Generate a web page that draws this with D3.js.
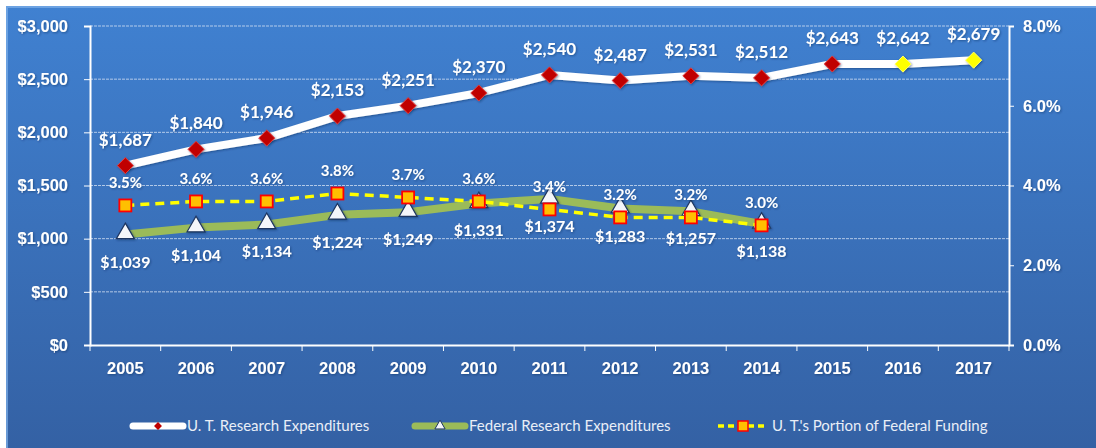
<!DOCTYPE html>
<html>
<head>
<meta charset="utf-8">
<script src="https://cdn.jsdelivr.net/npm/d3@7"></script>
<style>
	body { margin: 0; background: #fff; }
	svg { display: block; font-family: Lato, 'Open Sans', sans-serif; }
	.tick-label { fill: #fff; font-weight: bold; font-size: 16.5px; }
	.data-label { fill: #fff; font-weight: bold; }
	.legend text { fill: #e9eef7; font-size: 15px; }
</style>
</head>
<body>
<div id="chart"></div>
<script>
const years = ['2005', '2006', '2007', '2008', '2009', '2010', '2011', '2012', '2013', '2014', '2015', '2016', '2017'];
const utExpenditures = [1687, 1840, 1946, 2153, 2251, 2370, 2540, 2487, 2531, 2512, 2643, 2642, 2679];
const federalYears = ['2005', '2006', '2007', '2008', '2009', '2010', '2011', '2012', '2013', '2014'];
const federalExpenditures = [1039, 1104, 1134, 1224, 1249, 1331, 1374, 1283, 1257, 1138];
const federalShare = [3.5, 3.6, 3.6, 3.8, 3.7, 3.6, 3.4, 3.2, 3.2, 3.0];
const dollarTicks = [0, 500, 1000, 1500, 2000, 2500, 3000];
const shareTicks = [0, 2, 4, 6, 8];
const projectedYears = ['2016', '2017'];
const legendLabels = ['U. T. Research Expenditures', 'Federal Research Expenditures', 'U. T.\'s Portion of Federal Funding'];

const width = 1096;
const height = 448;
const plot = {left: 90, right: 1009, top: 26, bottom: 345};

const svg = d3.select('#chart')
	.append('svg')
	.attr('width', width)
	.attr('height', height);

const defs = svg.append('defs');

const bg = defs.append('linearGradient')
	.attr('id', 'bg')
	.attr('x1', 0).attr('y1', 0)
	.attr('x2', 0).attr('y2', 1);
bg.append('stop').attr('offset', '0%').attr('stop-color', '#4081d1');
bg.append('stop').attr('offset', '100%').attr('stop-color', '#3461a4');

defs.append('filter')
	.attr('id', 'shadow')
	.attr('x', '-30%').attr('y', '-30%')
	.attr('width', '160%').attr('height', '160%')
	.append('feDropShadow')
	.attr('dx', 1).attr('dy', 1)
	.attr('stdDeviation', 1)
	.attr('flood-color', '#0b2350')
	.attr('flood-opacity', 0.45);

// panel
svg.append('rect')
	.attr('x', 6).attr('y', 6)
	.attr('width', width - 6).attr('height', height - 6)
	.attr('fill', 'url(#bg)');
svg.append('path')
	.attr('d', `M7,${height} V7 H${width}`)
	.attr('fill', 'none')
	.attr('stroke', '#7fb0ea')
	.attr('stroke-width', 2)
	.attr('opacity', 0.7);

const x = d3.scaleBand()
	.domain(years)
	.range([plot.left, plot.right]);

const cx = d => x(d) + x.bandwidth() / 2;

const y = d3.scaleLinear()
	.domain([0, 3000])
	.range([plot.bottom, plot.top]);

const yShare = d3.scaleLinear()
	.domain([0, 8])
	.range([plot.bottom, plot.top]);

const dollar = v => '$' + d3.format(',')(v);
const pct = v => d3.format('.1f')(v) + '%';

// grid
svg.append('g')
	.selectAll('line')
	.data(dollarTicks.slice(1))
	.join('line')
	.attr('x1', plot.left).attr('x2', plot.right)
	.attr('y1', d => y(d)).attr('y2', d => y(d))
	.attr('stroke', '#dbe6f6')
	.attr('stroke-opacity', 0.75)
	.attr('stroke-dasharray', '3,1');

// axes
svg.append('g')
	.attr('transform', `translate(${plot.left},0)`)
	.call(d3.axisLeft(y).tickValues(dollarTicks).tickFormat(dollar).tickSize(6).tickPadding(16))
	.call(g => g.select('.domain').attr('stroke', '#fff').attr('stroke-width', 2))
	.call(g => g.selectAll('.tick line').attr('stroke', '#fff'))
	.call(g => g.selectAll('.tick text').attr('class', 'tick-label').attr('font-family', null).attr('font-size', null).attr('filter', 'url(#shadow)'));

svg.append('g')
	.attr('transform', `translate(${plot.right},0)`)
	.call(d3.axisRight(yShare).tickValues(shareTicks).tickFormat(pct).tickSize(5).tickPadding(9))
	.call(g => g.select('.domain').attr('stroke', '#fff').attr('stroke-width', 2))
	.call(g => g.selectAll('.tick line').attr('stroke', '#fff'))
	.call(g => g.selectAll('.tick text').attr('class', 'tick-label').attr('font-family', null).attr('font-size', null).attr('filter', 'url(#shadow)'));

svg.append('g')
	.attr('transform', `translate(0,${plot.bottom})`)
	.call(d3.axisBottom(x).tickSize(0).tickPadding(17))
	.call(g => g.select('.domain').attr('stroke', '#fff').attr('stroke-width', 2))
	.call(g => g.selectAll('.tick text').attr('class', 'tick-label').attr('font-family', null).attr('font-size', null).attr('filter', 'url(#shadow)'));

// x ticks sit on the category boundaries
svg.append('g')
	.selectAll('line')
	.data(years.map(d => x(d)).concat([plot.right]))
	.join('line')
	.attr('x1', d => d).attr('x2', d => d)
	.attr('y1', plot.bottom).attr('y2', plot.bottom + 6)
	.attr('stroke', '#fff');

const line = d3.line();

// federal expenditures
const federal = federalYears.map((d, i) => ({year: d, value: federalExpenditures[i]}));
svg.append('path')
	.attr('d', line(federal.map(d => [cx(d.year), y(d.value)])))
	.attr('fill', 'none')
	.attr('stroke', '#9bbb59')
	.attr('stroke-width', 8)
	.attr('stroke-linejoin', 'round');

const triangle = d3.symbol().type(d3.symbolTriangle).size(140);

svg.append('g')
	.selectAll('path')
	.data(federal)
	.join('path')
	.attr('d', triangle)
	.attr('transform', d => `translate(${cx(d.year)},${y(d.value) - 1})`)
	.attr('fill', '#f4f6fa')
	.attr('stroke', '#1d3560')
	.attr('stroke-width', 1.2)
	.attr('filter', 'url(#shadow)');

// federal share
const share = federalYears.map((d, i) => ({year: d, value: federalShare[i]}));
svg.append('path')
	.attr('d', line(share.map(d => [cx(d.year), yShare(d.value)])))
	.attr('fill', 'none')
	.attr('stroke', '#ffff00')
	.attr('stroke-width', 3.5)
	.attr('stroke-dasharray', '9,6');

svg.append('g')
	.selectAll('rect')
	.data(share)
	.join('rect')
	.attr('x', d => cx(d.year) - 6)
	.attr('y', d => yShare(d.value) - 6)
	.attr('width', 12).attr('height', 12)
	.attr('fill', '#ffc000')
	.attr('stroke', '#ff0000')
	.attr('stroke-width', 1.8);

// U.T. expenditures
const ut = years.map((d, i) => ({year: d, value: utExpenditures[i]}));
svg.append('path')
	.attr('d', line(ut.map(d => [cx(d.year), y(d.value)])))
	.attr('fill', 'none')
	.attr('stroke', '#fff')
	.attr('stroke-width', 8)
	.attr('stroke-linejoin', 'round')
	.attr('filter', 'url(#shadow)');

const diamond = d3.symbol().type(d3.symbolDiamond2).size(165);

svg.append('g')
	.selectAll('path')
	.data(ut)
	.join('path')
	.attr('d', diamond)
	.attr('transform', d => `translate(${cx(d.year)},${y(d.value)})`)
	.attr('fill', d => projectedYears.includes(d.year) ? '#ffff00' : '#c00000')
	.attr('stroke', d => projectedYears.includes(d.year) ? '#ffff66' : '#e04040')
	.attr('stroke-width', 1)
	.attr('filter', 'url(#shadow)');

// labels
const labels = svg.append('g')
	.attr('class', 'data-label')
	.attr('text-anchor', 'middle')
	.attr('filter', 'url(#shadow)');

labels.selectAll('text.ut')
	.data(ut)
	.join('text')
	.attr('class', 'ut')
	.attr('x', d => cx(d.year))
	.attr('y', d => y(d.value) - 20)
	.attr('font-size', 17)
	.text(d => dollar(d.value));

labels.selectAll('text.federal')
	.data(federal)
	.join('text')
	.attr('class', 'federal')
	.attr('x', d => cx(d.year))
	.attr('y', d => y(d.value) + 33)
	.attr('font-size', 16)
	.text(d => dollar(d.value));

labels.selectAll('text.share')
	.data(share)
	.join('text')
	.attr('class', 'share')
	.attr('x', d => cx(d.year))
	.attr('y', d => yShare(d.value) - 17)
	.attr('font-size', 15)
	.text(d => pct(d.value));

// legend
const legendX = [133, 415, 718];
const legend = svg.append('g')
	.attr('class', 'legend')
	.attr('transform', 'translate(0,426)');

const items = legend.selectAll('g')
	.data(legendLabels)
	.join('g')
	.attr('transform', (d, i) => `translate(${legendX[i]},0)`);

items.append('text')
	.attr('x', 54)
	.attr('y', 5)
	.text(d => d);

items.filter((d, i) => i === 0)
	.call(g => g.append('line').attr('x1', 0).attr('x2', 50).attr('stroke', '#fff').attr('stroke-width', 7).attr('stroke-linecap', 'round'))
	.call(g => g.append('path').attr('d', d3.symbol().type(d3.symbolDiamond2).size(40)).attr('transform', 'translate(25,0)').attr('fill', '#c00000'));

items.filter((d, i) => i === 1)
	.call(g => g.append('line').attr('x1', 0).attr('x2', 50).attr('stroke', '#9bbb59').attr('stroke-width', 7).attr('stroke-linecap', 'round'))
	.call(g => g.append('path').attr('d', d3.symbol().type(d3.symbolTriangle).size(45)).attr('transform', 'translate(25,0)').attr('fill', '#f4f6fa').attr('stroke', '#1d3560'));

items.filter((d, i) => i === 2)
	.call(g => g.append('line').attr('x1', 0).attr('x2', 50).attr('stroke', '#ffff00').attr('stroke-width', 3.5).attr('stroke-dasharray', '6,4'))
	.call(g => g.append('rect').attr('x', 20).attr('y', -5).attr('width', 10).attr('height', 10).attr('fill', '#ffc000').attr('stroke', '#ff0000').attr('stroke-width', 1.5));
</script>
</body>
</html>
